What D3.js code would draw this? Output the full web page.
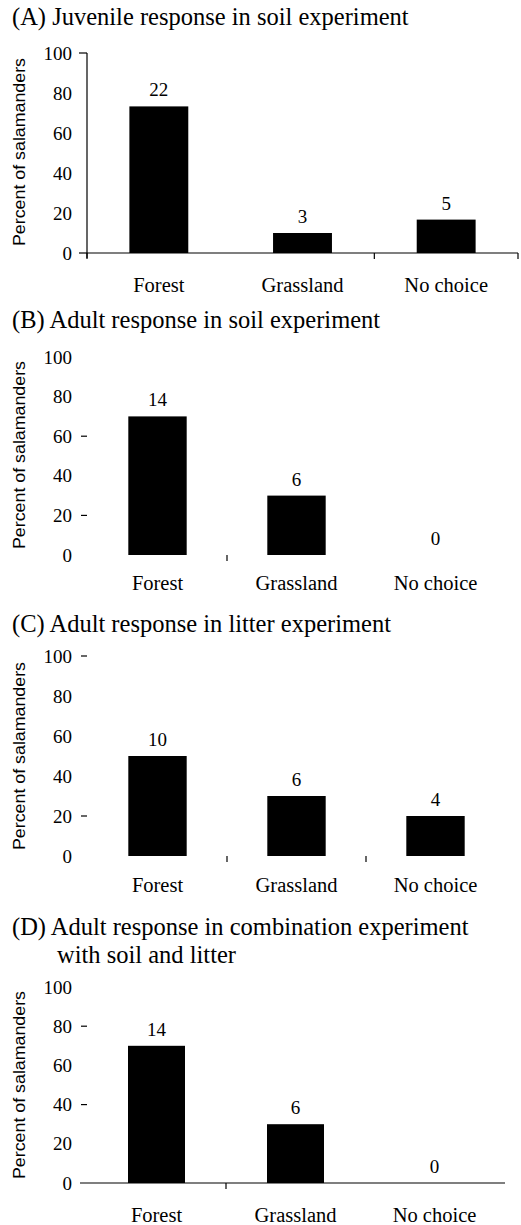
<!DOCTYPE html>
<html>
<head>
<meta charset="utf-8">
<script src="https://cdn.jsdelivr.net/npm/d3@7"></script>
<style>
  html, body { margin: 0; padding: 0; background: #fff; }
  svg { display: block; }
  text { fill: #000; }
  .serif { font-family: 'Liberation Serif', 'Times New Roman', Times, 'DejaVu Serif', serif; }
  .sans { font-family: 'Liberation Sans', Arial, Helvetica, sans-serif; }
</style>
</head>
<body>
<div id="chart"></div>
<script>
(function () {
	'use strict';

	// data
	var categories = ['Forest', 'Grassland', 'No choice'];
	var panelTitles = [
		['(A) Juvenile response in soil experiment'],
		['(B) Adult response in soil experiment'],
		['(C) Adult response in litter experiment'],
		['(D) Adult response in combination experiment', 'with soil and litter']
	];
	// percent of salamanders choosing each side
	var percentA = [73.3, 10, 16.7];
	var percentB = [70, 30, 0];
	var percentC = [50, 30, 20];
	var percentD = [70, 30, 0];
	// number of salamanders printed above each bar
	var countA = [22, 3, 5];
	var countB = [14, 6, 0];
	var countC = [10, 6, 4];
	var countD = [14, 6, 0];
	var yTicks = [0, 20, 40, 60, 80, 100];
	var yLabel = 'Percent of salamanders';

	var width = 521;
	var height = 1225;

	// layout of each panel, as it sits in the scanned figure
	var panels = [
		{ title: panelTitles[0], pct: percentA, n: countA,
			titleY: [25], y0: 253, y100: 53, x: [87, 518], pad: 0.59,
			yAxisLine: true, yTickMarks: [0, 100], yDashes: [],
			xAxisLine: [87, 518], bounds: [0, 2, 3], labelY: 292, yLabelMid: 152 },
		{ title: panelTitles[1], pct: percentB, n: countB,
			titleY: [328], y0: 555, y100: 357, x: [88, 505], pad: 0.58,
			yAxisLine: false, yTickMarks: [], yDashes: [60, 20],
			xAxisLine: null, bounds: [1], labelY: 590, yLabelMid: 455 },
		{ title: panelTitles[2], pct: percentC, n: countC,
			titleY: [632], y0: 856, y100: 656, x: [88, 505], pad: 0.58,
			yAxisLine: false, yTickMarks: [], yDashes: [100, 20],
			xAxisLine: null, bounds: [1, 2], labelY: 892, yLabelMid: 756 },
		{ title: panelTitles[3], pct: percentD, n: countD,
			titleY: [935, 963], y0: 1183, y100: 987, x: [87, 504], pad: 0.59,
			yAxisLine: false, yTickMarks: [], yDashes: [80, 40],
			xAxisLine: [80, 505], bounds: [1], labelY: 1222, yLabelMid: 1085 }
	];

	var svg = d3.select('#chart').append('svg')
		.attr('width', width)
		.attr('height', height)
		.attr('viewBox', '0 0 ' + width + ' ' + height);

	svg.append('rect')
		.attr('width', width)
		.attr('height', height)
		.attr('fill', '#fff');

	panels.forEach(function (p) {
		var g = svg.append('g');

		var x = d3.scaleBand()
			.domain(categories)
			.range(p.x)
			.paddingInner(p.pad)
			.paddingOuter(p.pad / 2);

		var y = d3.scaleLinear()
			.domain([0, 100])
			.range([p.y0, p.y100]);

		// title (second line indented under the first word)
		p.title.forEach(function (line, i) {
			g.append('text')
				.attr('class', 'serif')
				.attr('x', i === 0 ? 12 : 57)
				.attr('y', p.titleY[i])
				.style('font-size', '24.5px')
				.text(line);
		});

		// y axis title
		g.append('text')
			.attr('class', 'sans')
			.attr('transform', 'translate(25,' + p.yLabelMid + ') rotate(-90)')
			.attr('text-anchor', 'middle')
			.style('font-size', '16px')
			.attr('textLength', 188)
			.attr('lengthAdjust', 'spacingAndGlyphs')
			.text(yLabel);

		// y tick labels
		g.selectAll('text.ytick')
			.data(yTicks)
			.enter().append('text')
			.attr('class', 'ytick serif')
			.attr('x', 72)
			.attr('y', function (d) { return y(d); })
			.attr('dy', '0.35em')
			.attr('text-anchor', 'end')
			.style('font-size', '19px')
			.text(function (d) { return d; });

		if (p.yAxisLine) {
			g.append('line')
				.attr('x1', p.x[0]).attr('x2', p.x[0])
				.attr('y1', y(100)).attr('y2', y(0) + 5)
				.attr('stroke', '#000').attr('stroke-width', 1.2);
		}

		g.selectAll('line.ytickmark')
			.data(p.yTickMarks)
			.enter().append('line')
			.attr('class', 'ytickmark')
			.attr('x1', p.x[0] - 8).attr('x2', p.x[0])
			.attr('y1', function (d) { return y(d); })
			.attr('y2', function (d) { return y(d); })
			.attr('stroke', '#000').attr('stroke-width', 1.2);

		// stray dash marks beside some labels in the scan
		g.selectAll('line.dash')
			.data(p.yDashes)
			.enter().append('line')
			.attr('class', 'dash')
			.attr('x1', 81).attr('x2', 87)
			.attr('y1', function (d) { return y(d); })
			.attr('y2', function (d) { return y(d); })
			.attr('stroke', '#000').attr('stroke-width', 1.2);

		// bars
		g.selectAll('rect.bar')
			.data(categories)
			.enter().append('rect')
			.attr('class', 'bar')
			.attr('x', function (d) { return x(d); })
			.attr('width', x.bandwidth())
			.attr('y', function (d, i) { return y(p.pct[i]); })
			.attr('height', function (d, i) { return y(0) - y(p.pct[i]); })
			.attr('fill', '#000');

		// x axis line and boundary ticks
		if (p.xAxisLine) {
			g.append('line')
				.attr('x1', p.xAxisLine[0]).attr('x2', p.xAxisLine[1])
				.attr('y1', y(0)).attr('y2', y(0))
				.attr('stroke', '#000').attr('stroke-width', 1.2);
		}

		g.selectAll('line.xtick')
			.data(p.bounds)
			.enter().append('line')
			.attr('class', 'xtick')
			.attr('x1', function (b) { return p.x[0] + b * x.step(); })
			.attr('x2', function (b) { return p.x[0] + b * x.step(); })
			.attr('y1', y(0))
			.attr('y2', y(0) + 6)
			.attr('stroke', '#000').attr('stroke-width', 1.2);

		// counts above bars
		g.selectAll('text.count')
			.data(categories)
			.enter().append('text')
			.attr('class', 'count serif')
			.attr('x', function (d) { return x(d) + x.bandwidth() / 2; })
			.attr('y', function (d, i) { return y(p.pct[i]) - 10; })
			.attr('text-anchor', 'middle')
			.style('font-size', '19px')
			.text(function (d, i) { return p.n[i]; });

		// category labels
		g.selectAll('text.cat')
			.data(categories)
			.enter().append('text')
			.attr('class', 'cat serif')
			.attr('x', function (d) { return x(d) + x.bandwidth() / 2; })
			.attr('y', p.labelY)
			.attr('text-anchor', 'middle')
			.style('font-size', '20.5px')
			.text(function (d) { return d; });
	});
})();
</script>
</body>
</html>
